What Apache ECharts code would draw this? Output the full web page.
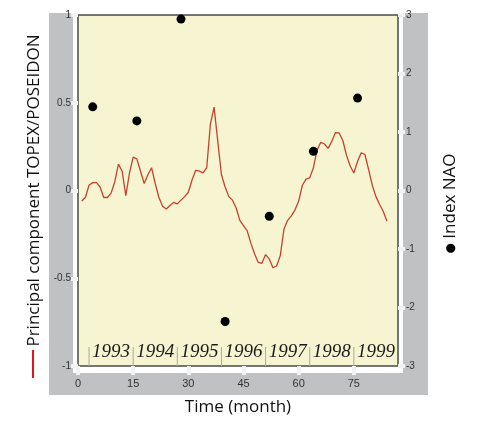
<!DOCTYPE html>
<html><head><meta charset="utf-8">
<script src="https://cdn.jsdelivr.net/npm/echarts@6/dist/echarts.min.js"></script>
<style>html,body{margin:0;padding:0;background:#fff}#c{width:478px;height:421px}</style>
</head><body><div id="c"></div>
<script>
const months = [1,2,3,4,5,6,7,8,9,10,11,12,13,14,15,16,17,18,19,20,21,22,23,24,25,26,27,28,29,30,
  31,32,33,34,35,36,37,38,39,40,41,42,43,44,45,46,47,48,49,50,51,52,53,54,55,56,57,58,59,60,
  61,62,63,64,65,66,67,68,69,70,71,72,73,74,75,76,77,78,79,80,81,82,83,84];
const topexPC = [-0.06,-0.04,0.03,0.045,0.045,0.02,-0.04,-0.04,-0.015,0.05,0.15,0.11,-0.03,0.10,0.19,0.18,0.11,0.04,0.09,0.13,
  0.04,-0.04,-0.09,-0.105,-0.085,-0.068,-0.076,-0.055,-0.035,-0.01,0.06,0.115,0.11,0.10,0.13,0.38,0.475,0.28,0.09,0.02,
  -0.035,-0.055,-0.10,-0.17,-0.20,-0.23,-0.30,-0.36,-0.41,-0.415,-0.365,-0.39,-0.44,-0.43,-0.37,-0.22,-0.17,-0.145,-0.11,-0.06,
  0.03,0.065,0.072,0.13,0.23,0.275,0.265,0.24,0.28,0.33,0.328,0.285,0.20,0.14,0.10,0.165,0.215,0.205,0.12,0.03,
  -0.035,-0.08,-0.12,-0.175];
const naoMonths = [4,16,28,40,52,64,76];
const naoIndex = [1.43,1.19,2.93,-2.24,-0.44,0.67,1.58];
const yearLabels = ['1993','1994','1995','1996','1997','1998','1999'];
const yearCenters = [9,21,33,45,57,69,81];
const yearBounds = [3,15,27,39,51,63,75];
const xTicks = [0,15,30,45,60,75];

const chart = echarts.init(document.getElementById('c'), null, {renderer:'canvas'});
const labelFont = {fontFamily:'Liberation Sans', color:'#333'};
const nameFont = {fontFamily:'Open Sans', fontSize:17, color:'#111'};

chart.setOption({
  animation:false,
  backgroundColor:'#fff',
  graphic:[
    {type:'rect', z:-10, shape:{x:49,y:13,width:379,height:382}, style:{fill:'#c0c1c2'}},
    {type:'rect', z:-9, shape:{x:73,y:0,width:330,height:373}, style:{fill:'#fff'}},
    {type:'line', z:5, shape:{x1:33,y1:350,x2:33,y2:378}, style:{stroke:'#e8121c',lineWidth:2}}
  ],
  grid:{left:78,right:80,top:15,bottom:53,show:true,backgroundColor:'#f7f4d1',borderColor:'#4a4a4a',borderWidth:1.5},
  xAxis:{
    type:'value', min:0, max:87, interval:15,
    name:'Time (month)', nameLocation:'middle', nameGap:33, nameTextStyle:nameFont,
    axisLine:{show:false, onZero:false}, splitLine:{show:false},
    axisTick:{show:true, customValues:xTicks, length:9, lineStyle:{color:'#f2f2f2',width:4}},
    axisLabel:{customValues:xTicks, margin:12, fontSize:11, ...labelFont}
  },
  yAxis:[
    {type:'value', min:-1, max:1, interval:0.5, position:'left',
     name:'Principal component TOPEX/POSEIDON', nameLocation:'middle', nameGap:34, nameRotate:90, nameTextStyle:nameFont,
     axisLine:{show:false, onZero:false}, splitLine:{show:false},
     axisTick:{show:true, length:7, lineStyle:{color:'#f2f2f2',width:4}},
     axisLabel:{margin:7, fontSize:10, ...labelFont}},
    {type:'value', min:-3, max:3, interval:1, position:'right',
     name:'{b|●} Index NAO', nameLocation:'middle', nameGap:44, nameRotate:90,
     nameTextStyle:{...nameFont, padding:[0,26,0,0], rich:{b:{fontSize:12, fontFamily:'DejaVu Sans', color:'#000'}}},
     axisLine:{show:false, onZero:false}, splitLine:{show:false},
     axisTick:{show:true, length:7, lineStyle:{color:'#f2f2f2',width:4}},
     axisLabel:{margin:8, fontSize:10, ...labelFont}}
  ],
  series:[
    {type:'custom', xAxisIndex:0, yAxisIndex:0, silent:true, z:1,
     data:yearBounds.map(m=>[m]),
     renderItem:(params, api)=>{
       const p = api.coord([api.value(0), -1]);
       return {type:'line', shape:{x1:p[0],y1:p[1],x2:p[0],y2:p[1]-19}, style:{stroke:'#aaa',lineWidth:1}};
     }},
    {type:'custom', xAxisIndex:0, yAxisIndex:0, silent:true, z:1,
     data:yearCenters.map(m=>[m]),
     renderItem:(params, api)=>{
       const p = api.coord([api.value(0), -1]);
       return {type:'text', x:p[0], y:p[1]-14,
         style:{text:yearLabels[params.dataIndex], fontFamily:'Liberation Serif', fontStyle:'italic', fontSize:19,
                fill:'#1a1a1a', align:'center', verticalAlign:'middle'}};
     }},
    {type:'line', xAxisIndex:0, yAxisIndex:0, showSymbol:false, z:3, silent:true,
     data:months.map((m,i)=>[m, topexPC[i]]),
     lineStyle:{color:'#c4432f', width:1.3}},
    {type:'scatter', xAxisIndex:0, yAxisIndex:1, z:4, symbolSize:9,
     data:naoMonths.map((m,i)=>[m, naoIndex[i]]),
     itemStyle:{color:'#000', opacity:1}}
  ]
});
</script></body></html>
